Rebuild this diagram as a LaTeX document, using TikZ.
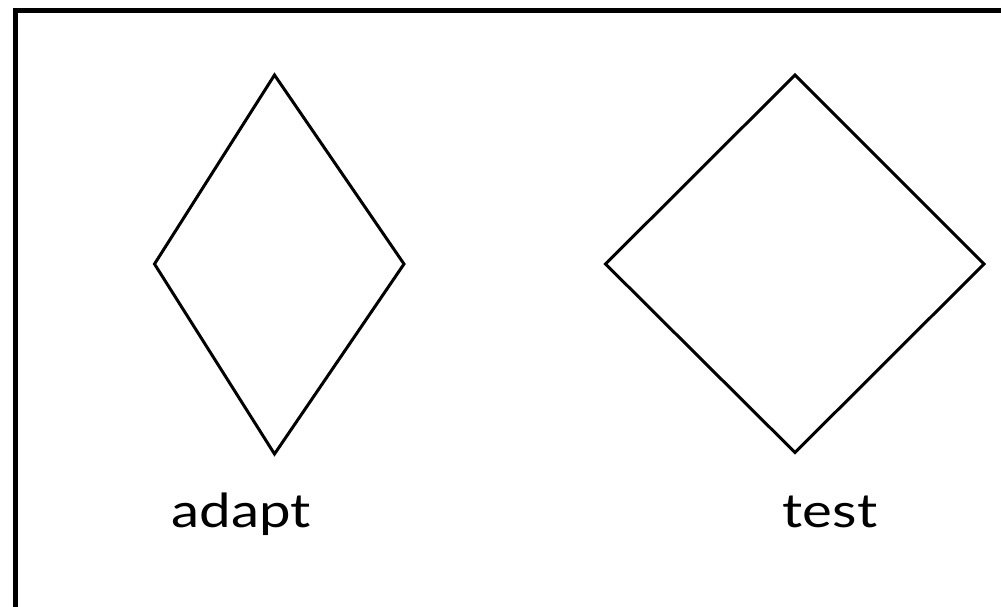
\documentclass[tikz,border=0pt]{standalone}
\usepackage{fontspec}
\setmainfont{Lato}[FakeStretch=1.2]
\usetikzlibrary{shapes.geometric, positioning}

\tikzset{
  kite/.style={draw=black, line width=3pt, line join=miter},
  caption/.style={anchor=base, font=\fontsize{47}{50}\selectfont}
}

\begin{document}
\begin{tikzpicture}[x=1pt, y=-1pt]
    \useasboundingbox (0,0) rectangle (1001,607);
    % outer frame, right and bottom edges run off the page
    \begin{scope}
      \clip (0,0) rectangle (1001,607);
      \draw[line width=5pt] (15.5,10.5) rectangle (1040,650);
    \end{scope}
    % corners of the two shapes
    \coordinate (adapttop) at (274.5,75);
    \coordinate (adaptleft) at (154.5,264);
    \coordinate (adaptbottom) at (274.5,454);
    \coordinate (adaptright) at (404,264);
    \coordinate (testtop) at (795,75);
    \coordinate (testleft) at (605.5,264);
    \coordinate (testbottom) at (795,452.5);
    \coordinate (testright) at (984,264);
    % the two shapes
    \draw[kite] (adapttop) -- (adaptleft) -- (adaptbottom) -- (adaptright) -- cycle;
    \draw[kite] (testtop) -- (testleft) -- (testbottom) -- (testright) -- cycle;
    % labels
    \node[caption] (adaptlabel) at (241.5,527) {adapt};
    \node[caption] (testlabel) at (830,527) {test};
\end{tikzpicture}
\end{document}
